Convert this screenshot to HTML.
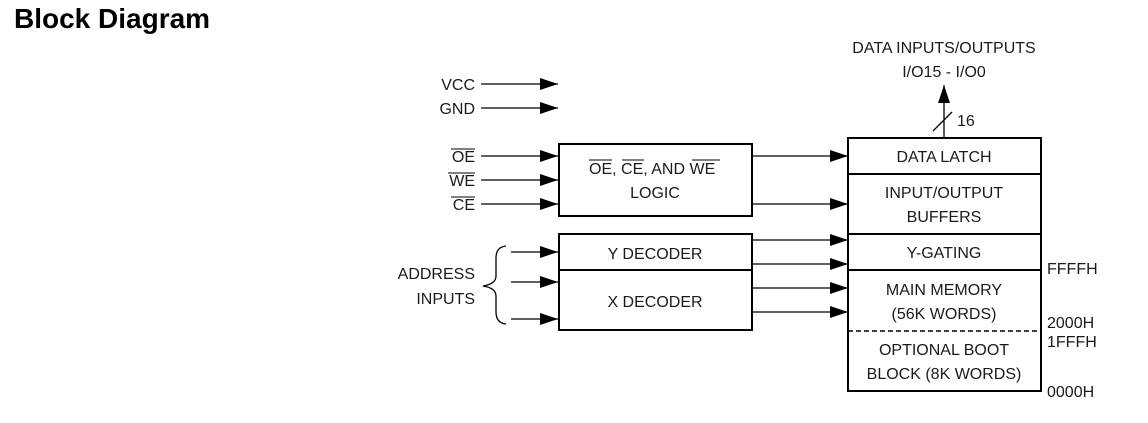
<!DOCTYPE html>
<html><head><meta charset="utf-8"><style>
html,body{margin:0;padding:0;background:#fff;width:1148px;height:423px;overflow:hidden}
svg{display:block}
text{font-family:"Liberation Sans",Arial,sans-serif;font-size:16px;fill:#1a1a1a}
</style></head><body>
<svg width="1148" height="423" viewBox="0 0 1148 423" xmlns="http://www.w3.org/2000/svg">
<defs>
<marker id="b" markerWidth="18" markerHeight="12" refX="18" refY="6" orient="auto" markerUnits="userSpaceOnUse" viewBox="0 0 18 12">
<path d="M0,0 L18,6 L0,12 z" fill="#000"/></marker>
</defs>
<text x="14" y="28" style="font-size:28px;font-weight:bold;fill:#000">Block Diagram</text>

<g stroke="#000" stroke-width="1.3" fill="none">
<line x1="481" y1="84" x2="558" y2="84" marker-end="url(#b)"/>
<line x1="481" y1="108" x2="558" y2="108" marker-end="url(#b)"/>
<line x1="481" y1="156" x2="558" y2="156" marker-end="url(#b)"/>
<line x1="481" y1="180" x2="558" y2="180" marker-end="url(#b)"/>
<line x1="481" y1="204" x2="558" y2="204" marker-end="url(#b)"/>
<line x1="511" y1="252" x2="558" y2="252" marker-end="url(#b)"/>
<line x1="511" y1="282" x2="558" y2="282" marker-end="url(#b)"/>
<line x1="511" y1="319" x2="558" y2="319" marker-end="url(#b)"/>
<path d="M506,246 Q496,247 496,258 L496,276 Q496,284 483,286 Q496,288 496,296 L496,312 Q496,323 506,324"/>
<line x1="752" y1="156" x2="848" y2="156" marker-end="url(#b)"/>
<line x1="752" y1="204" x2="848" y2="204" marker-end="url(#b)"/>
<line x1="752" y1="240" x2="848" y2="240" marker-end="url(#b)"/>
<line x1="752" y1="264" x2="848" y2="264" marker-end="url(#b)"/>
<line x1="752" y1="288" x2="848" y2="288" marker-end="url(#b)"/>
<line x1="752" y1="312" x2="848" y2="312" marker-end="url(#b)"/>
<line x1="944" y1="138" x2="944" y2="85" marker-end="url(#b)"/>
<line x1="933" y1="131" x2="952" y2="112"/>
</g>
<g stroke="#000" stroke-width="2" fill="none">
<rect x="559" y="144" width="193" height="72"/>
<rect x="559" y="234" width="193" height="96"/>
<line x1="559" y1="270" x2="752" y2="270"/>
<rect x="848" y="138" width="193" height="253"/>
<line x1="848" y1="174" x2="1041" y2="174"/>
<line x1="848" y1="234" x2="1041" y2="234"/>
<line x1="848" y1="270" x2="1041" y2="270"/>
</g>
<line x1="848" y1="331" x2="1041" y2="331" stroke="#000" stroke-width="1.5" stroke-dasharray="5,3"/>

<g text-anchor="end">
<text x="475" y="90">VCC</text>
<text x="475" y="114">GND</text>
<text x="475" y="162">OE</text>
<text x="475" y="186">WE</text>
<text x="475" y="210">CE</text>
<text x="475" y="279">ADDRESS</text>
<text x="475" y="304">INPUTS</text>
</g>
<g stroke="#000" stroke-width="1">
<line x1="451" y1="149" x2="475" y2="149"/>
<line x1="448" y1="173" x2="475" y2="173"/>
<line x1="451" y1="197" x2="475" y2="197"/>
<line x1="589" y1="160" x2="612" y2="160"/>
<line x1="622" y1="160" x2="644" y2="160"/>
<line x1="692" y1="160" x2="720" y2="160"/>
</g>
<text x="589" y="174">OE, CE, AND WE</text>
<g text-anchor="middle">
<text x="655" y="198">LOGIC</text>
<text x="655" y="259">Y DECODER</text>
<text x="655" y="307">X DECODER</text>
<text x="944" y="53">DATA INPUTS/OUTPUTS</text>
<text x="944" y="77">I/O15 - I/O0</text>
<text x="944" y="162">DATA LATCH</text>
<text x="944" y="198">INPUT/OUTPUT</text>
<text x="944" y="222">BUFFERS</text>
<text x="944" y="258">Y-GATING</text>
<text x="944" y="295">MAIN MEMORY</text>
<text x="944" y="319">(56K WORDS)</text>
<text x="944" y="355">OPTIONAL BOOT</text>
<text x="944" y="379">BLOCK (8K WORDS)</text>
</g>
<text x="957" y="126">16</text>
<text x="1047" y="274">FFFFH</text>
<text x="1047" y="328">2000H</text>
<text x="1047" y="347">1FFFH</text>
<text x="1047" y="397">0000H</text>
</svg>
</body></html>
